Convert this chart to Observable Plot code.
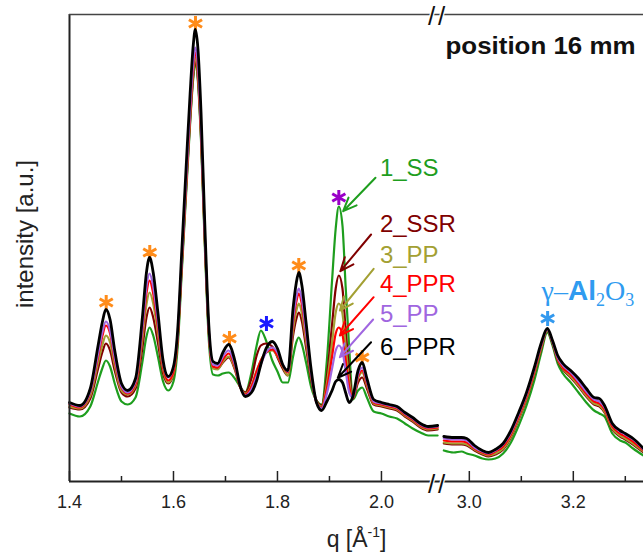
<!DOCTYPE html>
<html><head><meta charset="utf-8">
<script src="https://cdn.jsdelivr.net/npm/d3@7"></script>
<script src="https://cdn.jsdelivr.net/npm/@observablehq/plot@0.6"></script>
<style>
html,body{margin:0;padding:0;background:#fff;overflow:hidden;}
#chart{width:643px;height:553px;}
</style></head><body><div id="chart"></div>
<script>
// ---- data (q in 1/Å, intensity in arbitrary units) ----
const seriesNames = ["1_SS","2_SSR","3_PP","4_PPR","5_PP","6_PPR"];
const seriesColors = ["#1e9e1e","#800000","#a3a033","#ff0000","#a066e0","#000000"];

const qLeft = [1.400,1.420,1.440,1.455,1.463,1.470,1.478,1.487,1.500,1.512,1.527,1.540,1.548,1.554,1.561,1.570,1.580,1.590,1.600,1.608,1.616,1.625,1.632,1.638,1.642,1.647,1.653,1.660,1.668,1.676,1.685,1.695,1.706,1.718,1.728,1.738,1.750,1.760,1.768,1.778,1.790,1.800,1.810,1.820,1.830,1.836,1.841,1.847,1.855,1.865,1.875,1.885,1.895,1.905,1.912,1.918,1.925,1.931,1.938,1.945,1.955,1.963,1.972,1.985,2.000,2.015,2.030,2.045,2.060,2.075,2.090,2.108];
const qRight = [2.951,2.970,2.985,2.995,3.010,3.025,3.037,3.050,3.065,3.080,3.095,3.110,3.125,3.138,3.150,3.160,3.170,3.180,3.195,3.210,3.225,3.240,3.250,3.260,3.275,3.290,3.300,3.315,3.335];

const ss1Left = [68,65,75,100,113,121,115,98,80,77,84,119,145,154,146,125,100,91,100,134,210,294,358,403,418,400,340,239,141,107,106,108,109,103,95,89,109,136,151,141,121,110,99,99,125,139,144,137,119,94,81,77,121,201,253,275,256,196,133,82,91,94,84,70,68,65,63,58,53,49,46,46];
const ssr2Left = [74,72,83,113,129,138,131,111,89,85,93,133,164,174,164,139,108,98,107,141,215,299,361,406,421,403,344,245,148,114,113,119,124,112,95,89,103,126,136,138,135,124,113,106,146,162,169,160,134,101,81,76,105,157,193,206,193,153,111,83,99,104,93,77,75,73,71,65,60,54,51,52];
const pp3Left = [75,73,86,119,136,146,139,116,91,87,96,142,177,189,178,148,112,99,108,142,217,301,364,409,424,406,347,245,148,113,112,120,125,113,95,88,96,111,121,129,131,125,115,106,152,170,178,168,140,104,80,75,98,139,169,178,168,136,101,83,103,109,96,78,76,74,72,66,61,55,52,53];
const ppr4Left = [77,74,89,125,145,156,148,121,94,88,98,149,188,201,188,155,115,101,110,144,220,305,368,414,429,411,351,249,150,115,114,122,128,115,95,87,95,110,121,129,132,126,116,109,159,179,188,177,146,106,79,74,93,125,148,154,147,122,95,83,105,111,98,79,77,75,73,67,62,56,53,54];
const pp5Left = [78,75,90,128,149,160,151,124,95,89,100,153,195,208,195,160,118,104,114,148,224,309,373,419,434,416,355,252,152,117,116,125,131,117,96,86,92,105,117,129,134,129,117,110,163,184,193,182,149,107,79,73,88,113,131,136,130,111,89,84,107,114,100,80,78,76,74,68,63,57,54,55];
const ppr6Left = [79,76,93,136,159,172,162,131,98,91,103,163,209,224,209,169,121,105,115,151,231,321,388,436,452,433,369,261,156,120,118,129,137,121,96,85,89,101,117,133,140,133,117,111,173,198,209,196,159,111,79,71,80,91,100,102,99,89,79,85,111,119,103,82,79,77,75,69,64,58,55,56];

const ss1Right = [31,29,30,28,26,23,22,23,28,39,56,76,101,128,149,136,118,108,99,89,79,71,68,65,48,41,39,33,26];
const ssr2Right = [38,37,37,36,31,27,25,27,32,44,62,82,107,132,151,138,121,112,104,95,85,77,75,69,52,45,42,37,29];
const pp3Right = [39,38,38,37,32,28,26,28,33,45,63,83,108,133,151,139,122,113,105,96,86,78,76,70,53,46,43,38,30];
const ppr4Right = [41,40,40,39,33,29,27,30,35,47,65,85,110,135,152,140,123,114,107,98,88,80,78,72,55,48,45,40,31];
const pp5Right = [43,42,42,41,34,30,28,31,37,49,67,87,112,136,152,140,124,116,109,100,90,82,80,74,57,50,47,42,32];
const ppr6Right = [45,44,44,43,36,31,29,32,38,51,69,89,114,138,153,141,126,118,111,103,93,84,83,76,58,51,48,43,33];

const leftSets = [ss1Left, ssr2Left, pp3Left, ppr4Left, pp5Left, ppr6Left];
const rightSets = [ss1Right, ssr2Right, pp3Right, ppr4Right, pp5Right, ppr6Right];

const majorTicks = [1.4,1.6,1.8,2.0,3.0,3.2];
const minorTicks = [1.5,1.7,1.9,3.1,3.3];

// reflection markers (asterisks)
const peakMarkers = [
  {q:1.4706, I:179, color:"#ff8c1a"},
  {q:1.5544, I:229, color:"#ff8c1a"},
  {q:1.6423, I:458, color:"#ff8c1a"},
  {q:1.7077, I:143, color:"#ff8c1a"},
  {q:1.7788, I:158, color:"#1a1aff"},
  {q:1.8410, I:216, color:"#ff8c1a"},
  {q:1.9180, I:284, color:"#9a00c8"},
  {q:1.9630, I:124, color:"#ff8c1a"},
  {q:3.1506, I:163, color:"#3399ee"}
];

// series labels with arrows pointing to the 1.92 peak
const seriesLabels = [
  {name:"1_SS",  lq:1.997, lI:312.7, tq:1.9885, tI:303.7, hq:1.9263, hI:270.3},
  {name:"2_SSR", lq:1.997, lI:257.0, tq:1.9800, tI:247.0, hq:1.9210, hI:210.3},
  {name:"3_PP",  lq:1.997, lI:226.3, tq:1.9850, tI:212.7, hq:1.9200, hI:171.0},
  {name:"4_PPR", lq:1.997, lI:197.0, tq:1.9850, tI:184.3, hq:1.9200, hI:146.0},
  {name:"5_PP",  lq:1.997, lI:167.0, tq:1.9840, tI:162.0, hq:1.9200, hI:124.3},
  {name:"6_PPR", lq:1.997, lI:134.2, tq:1.9800, tI:139.3, hq:1.9160, hI:103.7}
];
const phaseLabel = {text:"γ–Al2O3", q:3.139, I:190, color:"#2f9bf0"};

// ---- broken axis mapping ----
const breakShift = 0.831;          // gap removed between 2.11 and 2.95
const disp = q => q > 2.5 ? q - breakShift : q;
const breakAt = 2.106;

const table = [];
seriesNames.forEach((s, i) => {
  qLeft.forEach((q, j) => table.push({series:s, panel:"L", q, I:leftSets[i][j]}));
  qRight.forEach((q, j) => table.push({series:s, panel:"R", q, I:rightSets[i][j]}));
});

const font = "Liberation Sans, Arial, sans-serif";
const lineMarks = seriesNames.map((s, i) =>
  Plot.line(table.filter(d => d.series === s), {
    x: d => disp(d.q), y: "I", z: "panel", stroke: seriesColors[i],
    strokeWidth: s === "6_PPR" ? 2.8 : 2.2, curve: "monotone-x"
  })
);
const slash = (anchor, dx, dy) => Plot.text([breakAt], {x: d => d, text: () => "/", frameAnchor: anchor, lineAnchor: "middle",
  dx, dy, fontSize: 26, fill: "#111", stroke: "white", strokeWidth: 2.5, paintOrder: "stroke"});

const chart = Plot.plot({
  width: 643, height: 553,
  marginLeft: 69, marginRight: 0, marginTop: 14, marginBottom: 72,
  x: {domain: [1.4, disp(3.335)], axis: null},
  y: {domain: [0, 467], axis: null},
  style: {fontFamily: font, background: "white"},
  marks: [
    Plot.dot(peakMarkers, {x: d => disp(d.q), y: "I", symbol: "asterisk", r: 7.2, stroke: d => d.color, strokeWidth: 3}),
    ...lineMarks,
    // frame
    Plot.ruleX([1.4], {y1: 0, y2: 467, stroke: "#222", strokeWidth: 2}),
    Plot.ruleY([0], {stroke: "#222", strokeWidth: 2}),
    Plot.ruleY([467], {stroke: "#444", strokeWidth: 1.6}),
    // ticks (inward)
    Plot.ruleX(majorTicks, {x: d => disp(d), y1: 0, y2: 10, stroke: "#222", strokeWidth: 1.5}),
    Plot.ruleX(minorTicks, {x: d => disp(d), y1: 0, y2: 5, stroke: "#222", strokeWidth: 1.5}),
    Plot.text(majorTicks, {x: d => disp(d), text: d => d.toFixed(1), frameAnchor: "bottom", lineAnchor: "middle", dy: 21, fontSize: 18, fill: "#222"}),
    // axis breaks
    slash("bottom", -5, 3), slash("bottom", 5, 3), slash("top", -5, 2), slash("top", 5, 2),
    // arrows and labels
    Plot.arrow(seriesLabels, {x1: d => disp(d.tq), y1: "tI", x2: d => disp(d.hq), y2: "hI",
      stroke: d => seriesColors[seriesNames.indexOf(d.name)], strokeWidth: 2, headLength: 11, headAngle: 45}),
    Plot.text(seriesLabels, {x: d => disp(d.lq), y: "lI", text: "name", textAnchor: "start", lineAnchor: "middle",
      fill: d => seriesColors[seriesNames.indexOf(d.name)], fontSize: 24}),
    Plot.text([phaseLabel], {x: d => disp(d.q), y: "I", text: "text", textAnchor: "start", lineAnchor: "middle", fill: d => d.color, fontSize: 28}),
    // titles
    Plot.text(["position 16 mm"], {frameAnchor: "top-right", text: d => d, textAnchor: "end", lineAnchor: "middle", dx: -8, dy: 32, fontSize: 24, fontWeight: "bold", fill: "#111"}),
    Plot.text(["q [Å-1]"], {frameAnchor: "bottom", text: d => d, lineAnchor: "middle", dy: 58, fontSize: 23, fill: "#222"}),
    Plot.text(["intensity [a.u.]"], {frameAnchor: "left", text: d => d, textAnchor: "middle", rotate: -90, lineAnchor: "middle", dx: -44, dy: -14, fontSize: 24, fill: "#222"})
  ]
});
document.getElementById("chart").appendChild(chart);

// rich text fix-ups
const svg = d3.select(chart);
svg.selectAll("text").filter(function(){ return this.textContent === phaseLabel.text; }).each(function(){
  const t = d3.select(this); t.text(null);
  t.append("tspan").attr("font-family","Liberation Serif").text("γ–");
  t.append("tspan").attr("font-family", font).attr("font-weight","bold").text("Al");
  t.append("tspan").attr("font-family","Liberation Serif").attr("font-size","18").attr("dy","6").text("2");
  t.append("tspan").attr("font-family","Liberation Serif").attr("dy","-6").text("O");
  t.append("tspan").attr("font-family","Liberation Serif").attr("font-size","18").attr("dy","6").text("3");
});
svg.selectAll("text").filter(function(){ return this.textContent === "q [Å-1]"; }).each(function(){
  const t = d3.select(this); t.text(null);
  t.append("tspan").text("q [Å");
  t.append("tspan").attr("font-size","14").attr("dy","-10").text("-1");
  t.append("tspan").attr("dy","10").text("]");
});
svg.selectAll("text").filter(function(){ return this.textContent === "position 16 mm"; })
  .attr("textLength", 190).attr("lengthAdjust", "spacingAndGlyphs");
svg.selectAll("text").filter(function(){ return this.textContent === "intensity [a.u.]"; })
  .attr("textLength", 148).attr("lengthAdjust", "spacingAndGlyphs");
</script></body></html>
